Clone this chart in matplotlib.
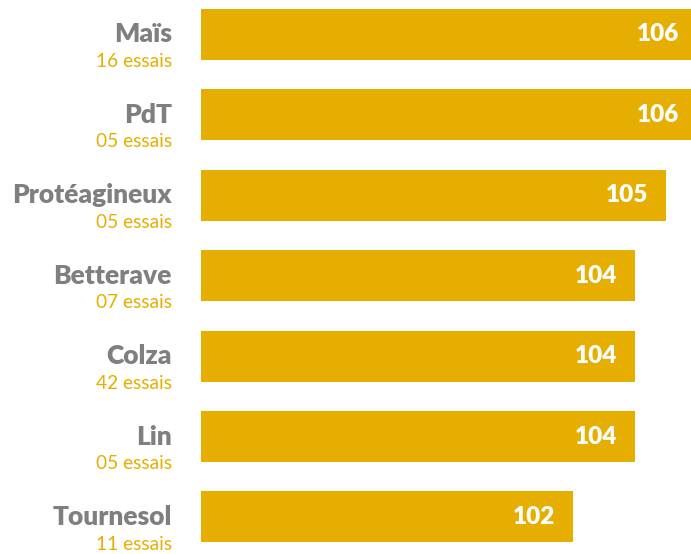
import matplotlib
matplotlib.use("Agg")
import matplotlib.pyplot as plt
from matplotlib.transforms import blended_transform_factory

# Relative yield index per crop, with the number of trials behind each value
crops = ["Maïs", "PdT", "Protéagineux", "Betterave", "Colza", "Lin", "Tournesol"]
trials = ["16 essais", "05 essais", "05 essais", "07 essais", "42 essais", "05 essais", "11 essais"]
values = [106, 106, 105, 104, 104, 104, 102]

BAR = "#E6AE00"
GREY = "#7F7F7F"

fig = plt.figure(figsize=(6.91, 5.54), dpi=100)
ax = fig.add_axes([201 / 691, 0, 490 / 691, 1])

pos = list(range(len(crops)))
ax.barh(pos, values, left=0, height=0.635, color=BAR)
ax.set_xlim(90, 90 + 490 / 31)
ax.set_ylim(6.461, -0.429)
ax.axis("off")

tr = blended_transform_factory(ax.transAxes, ax.transData)
for i, (crop, n, v) in enumerate(zip(crops, trials, values)):
    ax.text(-0.0592, i, crop, transform=tr, ha="right", va="center",
            fontsize=19, fontweight="heavy", color=GREY, family="Lato")
    ax.annotate(n, xy=(-0.0592, i), xycoords=tr, xytext=(0, -19.5),
                textcoords="offset points", ha="right", va="center",
                fontsize=13.8, color=BAR, family="Lato")
    ax.annotate(str(v), xy=(v, i), xytext=(-12.6, 0), textcoords="offset points",
                ha="right", va="center", fontsize=17.5, fontweight="heavy",
                color="white", family="Lato", annotation_clip=False)

fig.savefig("out.png", dpi=100)
